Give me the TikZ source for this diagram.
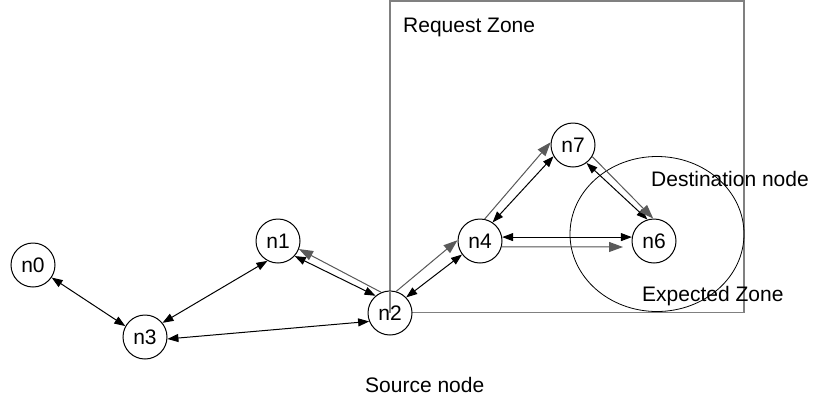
\documentclass[tikz,border=0pt]{standalone}
\usepackage{fontspec}
\setmainfont{Liberation Sans}
\usetikzlibrary{arrows.meta,calc}
\definecolor{zonegray}{HTML}{808080}
\definecolor{arrgray}{HTML}{5A5A5A}
\begin{document}
\begin{tikzpicture}[x=1pt,y=-1pt,
  nd/.style={circle,draw,line width=1pt,fill=white,minimum size=44pt,inner sep=0pt,font=\fontsize{21}{25}\selectfont},
  lbl/.style={anchor=base west,inner sep=0pt,font=\fontsize{21}{25}\selectfont},
  blk/.style={line width=1pt,{Triangle[length=11pt,width=8pt]}-{Triangle[length=11pt,width=8pt]}},
  gry/.style={draw=arrgray,line width=1pt,-{Triangle[length=14pt,width=10pt]},fill=arrgray},
  zone/.style={draw=zonegray,line width=1.3pt}]
\useasboundingbox (0,0) rectangle (813,400);
% request zone
\draw[zone] (390,1) rectangle (744,312.5);
% expected zone
\draw[line width=0.8pt] (657,234) ellipse [x radius=87, y radius=77.5];
% nodes
\node[nd] (n0) at (33,265) {n0};
\node[nd] (n1) at (278,241) {n1};
\node[nd] (n2) at (390,313) {n2};
\node[nd] (n3) at (145,337) {n3};
\node[nd] (n4) at (480,241) {n4};
\node[nd] (n7) at (573,145) {n7};
\node[nd] (n6) at (654,241) {n6};
\draw[zone] (n2.north) -- (n2.center);
% labels
\node[lbl] (rz) at (403,32) {Request Zone};
\node[lbl] (dn) at (651,186) {Destination node};
\node[lbl] (ez) at (642,301) {Expected Zone};
\node[lbl] (sn) at (365,392) {Source node};
% connectors
\draw[blk] (n0.-34) -- (n3.151);
\draw[blk] (n1.-118) -- (n3.39);
\draw[blk] (n2.-158) -- (n3.-5);
\draw[blk] (n1.-42) -- (n2.130);
\draw[gry] (n2.113) -- (n1.-21);
\draw[blk] (n2.44) -- (n4.-143);
\draw[gry] (n2.74) -- (n4.178);
\draw[blk] (n4.56) -- (n7.-150);
\draw[gry] (n4.78) -- (n7.173);
\draw[blk] (n7.-53) -- (n6.107);
\draw[gry] (n7.-31) -- (n6.92);
\draw[blk] (n4.10) -- (n6.170);
\coordinate (g46) at (623,247);
\draw[gry] (n4.-15) -- (g46);
\end{tikzpicture}
\end{document}
